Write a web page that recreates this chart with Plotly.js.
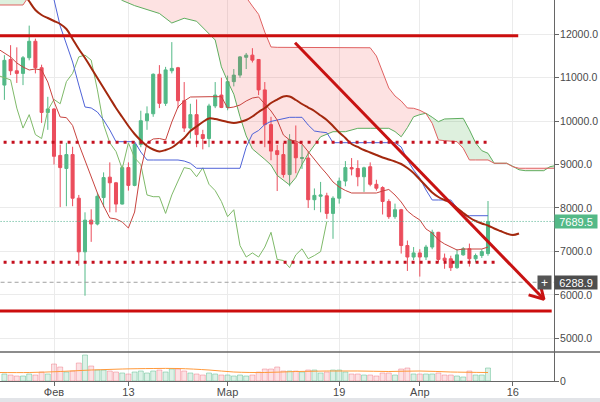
<!DOCTYPE html>
<html><head><meta charset="utf-8">
<script src="https://cdn.plot.ly/plotly-3.0.1.min.js"></script>
<style>html,body{margin:0;padding:0;background:#fff;}#chart{width:600px;height:402px;}</style>
</head><body><div id="chart"></div>
<script>
// ---------- DATA ----------
const candleStart = '2018-01-24';
const openP  = [10830,11420,11160,11100,11460,11840,11230,10200,
  10280,9210,8910,9230,8225,6990,7720,7630,8240,8710,8580,8090,8930,8520,9460,10010,10170,11080,10410,11160,11230,10470,9840,10150,9690,9600,10350,10600,
  10315,10910,11060,11470,11520,11420,10720,9920,9320,9230,8770,9500,9140,9150,8190,8270,8280,7875,8225,8620,8930,8910,8720,8950,8545,8470,8150,7800,7960,7135,6870,
  6965,6870,7100,7440,6845,6830,6625,6920,7060,6830,6905,6950];
const highP  = [11520,11750,11700,11500,12200,11900,11300,10560,
  10300,9460,9500,9410,8300,7900,7970,8350,8820,9050,8600,8980,9050,9500,10240,10340,11100,11290,11250,11820,11250,10900,10400,10500,9800,10400,10900,11000,
  11050,11200,11500,11570,11680,11430,10900,10100,9450,9500,9700,9900,9450,9300,8450,8600,8350,8270,8700,9080,9150,9100,8950,9050,8650,8500,8200,8100,7980,7250,7100,
  7050,7150,7500,7450,6950,6900,7050,7100,7180,6950,7050,8160];
const lowP   = [10490,11060,10880,10830,11400,11100,9960,9800,
  9000,8020,8040,8040,6670,5980,7220,7600,8020,7900,7900,8080,8400,8500,9400,9800,10100,10300,10350,11100,10300,9750,9600,9400,9350,9400,10300,10300,
  10250,10800,11000,11200,11350,10600,9400,9100,8390,8700,8500,8800,8900,8000,7950,7900,7750,7290,8100,8500,8750,8500,8370,8500,8400,7850,7750,7750,6950,6550,6800,
  6420,6800,7050,6750,6600,6550,6600,6900,6650,6750,6850,6900];
const closeP = [11400,11160,11100,11460,11840,11230,10200,10280,
  9190,8930,9230,8225,6990,7720,7630,8270,8700,8580,8090,8930,8520,9460,10010,10170,11080,10410,11180,11215,10470,9840,10150,9690,9600,10350,10600,10315,
  10910,11060,11480,11520,11405,10720,9920,9310,9230,8770,9575,9156,9160,8190,8290,8300,7875,8225,8620,8930,8900,8720,8925,8545,8455,8150,7800,7960,7135,6870,6965,
  6870,7100,7440,6815,6790,6625,6920,7060,6830,6905,6995,7689.5];
const volume = [7,6,5,5,7,6,9,7,
  17,14,9,10,18,26,15,11,11,10,9,8,7,9,10,8,10,11,9,12,12,10,8,7,6,8,7,6,
  6,5,6,5,6,9,12,12,14,10,10,10,9,11,11,8,9,11,11,9,7,7,6,6,5,8,8,6,12,13,7,
  7,7,7,8,6,6,5,4,10,6,6,13];
const volMADates = ['2018-01-23','2018-01-28','2018-02-02','2018-02-07','2018-02-12','2018-02-17','2018-02-21','2018-02-26','2018-03-02','2018-03-07','2018-03-12','2018-03-17','2018-03-22','2018-03-27','2018-04-01','2018-04-06','2018-04-12'];
const volMA = [8.5,8.5,9.5,11,12,12.5,12.5,11,9,8.5,9.5,10,10,9.5,10,9,8.5];

// Ichimoku conversion / base lines (daily from Jan 23)
const lineStart = '2018-01-23';
const tenkan = [11661,11569,11477,11339,11247,11178,11201,11178,10901,
  10450,10095,10080,9900,9470,9100,8691,8345,8046,7770,7746,7677,7539,7907,8875,9497,9589,9600,9566,9980,10326,10464,10556,10563,10563,10563,10563,10563,
  10303,10326,10372,10464,10533,10556,10395,10234,10026,9681,9566,9543,9474,9290,9128,8944,8783,8599,8483,8403,8345,8345,8345,8345,8345,8391,8426,8299,8138,7931,7816,
  7724,7516,7424,7263,7171,7101,7032,7055,7055,7055,7055,7101];
const kijun = [13500,13500,13500,13500,13500,13500,13500,13500,13300,
  12800,12190,11754,11362,10830,10326,10303,10210,10026,9796,9527,9527,9527,9527,9289,9105,9105,9105,9105,9105,9105,9082,9030,8914,8914,8914,8914,8914,
  8914,8914,8914,9400,9704,9785,9923,9994,10026,10061,10088,10088,10088,9911,9773,9750,9734,9504,9504,9504,9504,9504,9504,9504,9504,9504,9504,9504,9405,9105,8875,
  8690,8414,8184,8184,8184,8184,8000,7822,7822,7822,7822,7822];
// lagging span (daily from Jan 23)
const lagging = [11050,11000,10950,10300,9840,10150,9690,9600,10250,
  10500,10400,10910,11100,11480,11520,11405,10720,9920,9500,9300,8900,9500,9156,9000,8300,8260,8260,7875,8300,8620,8930,8900,8720,8925,8545,8400,8150,
  7800,7960,7135,6870,6965,6870,7100,7440,6815,6790,6625,6920,7060,6830,6905,6995,7689.5];
// moving average (daily from Jan 27)
const maStart = '2018-01-27';
const movingAvg = [12974,12760,12560,12444,12375,
  12306,12237,12122,11892,11661,11454,11224,10994,10763,10533,10303,10095,9888,9704,9554,9428,9347,9301,9335,9393,9497,9612,9773,9877,9980,10061,10049,10015,
  9980,9957,9980,10026,10107,10211,10303,10418,10498,10568,10568,10487,10395,10314,10234,10130,10026,9888,9738,9612,9474,9405,9335,9278,9220,9163,9117,9071,9013,8921,8806,
  8656,8506,8357,8253,8184,8115,8000,7885,7781,7700,7643,7597,7528,7470,7413,7378,7413];
// cloud (leading spans)
const cloudDates = ['2018-01-23','2018-01-27','2018-01-29','2018-02-11','2018-02-12','2018-02-14','2018-02-18','2018-02-20','2018-02-22','2018-02-24',
  '2018-02-27','2018-02-28','2018-03-01','2018-03-02','2018-03-03','2018-03-04','2018-03-05','2018-03-06','2018-03-07','2018-03-08','2018-03-09',
  '2018-03-11','2018-03-12','2018-03-13','2018-03-14','2018-03-16','2018-03-18','2018-03-20','2018-03-22','2018-03-24','2018-03-25','2018-03-26',
  '2018-03-27','2018-03-28','2018-03-29','2018-03-30','2018-03-31','2018-04-01','2018-04-02','2018-04-03','2018-04-04','2018-04-05','2018-04-07',
  '2018-04-08','2018-04-09','2018-04-10','2018-04-11','2018-04-12','2018-04-13','2018-04-15','2018-04-16','2018-04-17','2018-04-18','2018-04-21',
  '2018-04-22','2018-04-23'];
const spanA = [13000,13000,12950,12900,12780,12660,12480,12260,12370,12300,
  11869,11250,10920,10620,10102,9660,9360,9250,9120,8990,8750,
  8530,8700,9000,9250,9640,9757,9757,9835,9835,9835,9835,
  9835,9760,9640,9850,10100,10150,10181,10090,9987,10050,10065,
  10065,9800,9500,9320,9259,9030,9030,8960,8880,8859,8859,
  8951,8980];
const spanB = [12675,12675,13100,13200,13200,13200,13200,13200,13200,13200,
  13200,13200,13200,13200,13000,12850,12650,12460,12050,11708,11700,
  11700,11700,11700,11700,11700,11700,11700,11700,11690,11500,11109,
  10763,10579,10464,10303,10296,10250,10175,9950,9567,9550,9528,
  9375,9106,9106,9106,9106,9030,9030,8950,8915,8915,8915,
  8915,8915];
// drawn levels and trend arrow
const levelDates = ['2018-01-20'];
const resistanceTop = {price: 11968, end: '2018-04-16 21:00'};
const supportBottom = {price: 5628, end: '2018-04-22 06:30'};
const dottedUpper = {price: 9513, end: '2018-04-12 14:00'};
const dottedLower = {price: 6749, end: '2018-04-13 19:00'};
const trendX = ['2018-03-11 21:00','2018-04-21 00:45'];
const trendY = [11807, 5897];
const arrowHeadX = ['2018-04-18 13:10','2018-04-21 00:45','2018-04-20 09:35'];
const arrowHeadY = [5998, 5897, 6254];
const lastPrice = 7689.5;
const markPrice = 6288.9;
const xTickVals = ['2018-02-01','2018-02-13','2018-03-01','2018-03-19','2018-04-01','2018-04-16'];
const xTickText = ['Фев','13','Мар','19','Апр','16'];
const yTickVals = [5000,6000,7000,8000,9000,10000,11000,12000];

// ---------- BUILD ----------
function days(start, n){const t0=Date.parse(start+'T00:00:00Z');const o=[];for(let i=0;i<n;i++){o.push(new Date(t0+i*86400000).toISOString().slice(0,10));}return o;}
const cDates = days(candleStart, closeP.length);
const lDates = days(lineStart, tenkan.length);
const lagDates = days(lineStart, lagging.length);
const maDates = days(maStart, movingAvg.length);
const cloudTop = spanA.map((a,i)=>Math.max(a, spanB[i]));

const UP='#53b987', DN='#eb4d5c';
const traces = [];
traces.push({type:'bar', x:cDates, y:volume, xaxis:'x', yaxis:'y2', width:0.8*86400000,
  marker:{color:closeP.map((c,i)=>c>=openP[i]?'rgba(83,185,135,0.2)':'rgba(235,77,92,0.16)'),
          line:{color:closeP.map((c,i)=>c>=openP[i]?'rgba(83,185,135,0.45)':'rgba(235,77,92,0.35)'),width:1}}, hoverinfo:'skip'});
traces.push({type:'scatter', mode:'lines', x:volMADates, y:volMA, yaxis:'y2', line:{color:'#ff9a3c',width:1,shape:'spline'}, hoverinfo:'skip'});
traces.push({type:'candlestick', x:cDates, open:openP, high:highP, low:lowP, close:closeP, yaxis:'y',
  increasing:{line:{color:UP,width:1},fillcolor:UP}, decreasing:{line:{color:DN,width:1},fillcolor:DN}, whiskerwidth:0, hoverinfo:'skip'});
// cloud fills
traces.push({type:'scatter', mode:'lines', x:cloudDates, y:spanA, line:{width:0}, hoverinfo:'skip'});
traces.push({type:'scatter', mode:'lines', x:cloudDates, y:cloudTop, line:{width:0}, fill:'tonexty', fillcolor:'rgba(240,60,60,0.15)', hoverinfo:'skip'});
traces.push({type:'scatter', mode:'lines', x:cloudDates, y:spanB, line:{width:0}, hoverinfo:'skip'});
traces.push({type:'scatter', mode:'lines', x:cloudDates, y:cloudTop, line:{width:0}, fill:'tonexty', fillcolor:'rgba(0,140,0,0.13)', hoverinfo:'skip'});
traces.push({type:'scatter', mode:'lines', x:cloudDates, y:spanA, line:{color:'#5fae5f',width:1}, hoverinfo:'skip'});
traces.push({type:'scatter', mode:'lines', x:cloudDates, y:spanB, line:{color:'#e06262',width:1}, hoverinfo:'skip'});
traces.push({type:'scatter', mode:'lines', x:lagDates, y:lagging, line:{color:'#7fba6a',width:1}, hoverinfo:'skip'});
traces.push({type:'scatter', mode:'lines', x:lDates, y:kijun, line:{color:'#4f63d8',width:1}, hoverinfo:'skip'});
traces.push({type:'scatter', mode:'lines', x:lDates, y:tenkan, line:{color:'#c8443f',width:1}, hoverinfo:'skip'});
traces.push({type:'scatter', mode:'lines', x:maDates, y:movingAvg, line:{color:'#a3280e',width:2,shape:'spline'}, hoverinfo:'skip'});
// reference lines
traces.push({type:'scatter', mode:'lines', x:[levelDates[0],'2018-04-30'], y:[lastPrice,lastPrice], line:{color:'#4cb08c',width:1,dash:'1px,2px'}, hoverinfo:'skip'});
traces.push({type:'scatter', mode:'lines', x:[levelDates[0],'2018-04-30'], y:[markPrice,markPrice], line:{color:'#a0a0a0',width:1,dash:'4px,3px'}, hoverinfo:'skip'});
[dottedUpper, dottedLower].forEach(l=>traces.push({type:'scatter', mode:'lines', x:[levelDates[0],l.end], y:[l.price,l.price], line:{color:'#c4101e',width:3,dash:'3px,5px'}, hoverinfo:'skip'}));
[resistanceTop, supportBottom].forEach(l=>traces.push({type:'scatter', mode:'lines', x:[levelDates[0],l.end], y:[l.price,l.price], line:{color:'#cc0e0e',width:3}, hoverinfo:'skip'}));
traces.push({type:'scatter', mode:'lines', x:trendX, y:trendY, line:{color:'#c81212',width:3}, hoverinfo:'skip'});
traces.push({type:'scatter', mode:'lines', x:arrowHeadX, y:arrowHeadY, line:{color:'#c81212',width:3}, hoverinfo:'skip'});

const plotH = 381, sepY = 352;
const volTop = (plotH - sepY) / plotH;
const FONT = 'Liberation Sans, Arial, sans-serif';
const layout = {
  width:600, height:402, margin:{l:0,r:46,t:0,b:21}, paper_bgcolor:'#fff', plot_bgcolor:'#fff',
  showlegend:false, font:{family:FONT, size:11, color:'#4a4a4a'},
  xaxis:{type:'date', range:['2018-01-23 06:58','2018-04-22 15:29'], anchor:'y2', tickvals:xTickVals, ticktext:xTickText,
    showgrid:true, gridcolor:'#ebebeb', gridwidth:1, ticks:'outside', ticklen:4, tickcolor:'#666', showline:true, linecolor:'#666', linewidth:1,
    tickfont:{size:11,color:'#4a4a4a'}, ticklabelstandoff:-3, rangeslider:{visible:false}, zeroline:false, fixedrange:true},
  yaxis:{domain:[volTop,1], range:[4683,12790], side:'right', anchor:'x', tickvals:yTickVals, tickformat:'.1f',
    showgrid:true, gridcolor:'#ebebeb', ticks:'outside', ticklen:4, tickcolor:'#666', showline:true, linecolor:'#666', linewidth:1,
    zeroline:false, tickfont:{size:10.5,color:'#4a4a4a'}, ticklabelstandoff:-1},
  yaxis2:{domain:[0,volTop], range:[0,29], side:'right', anchor:'x', tickvals:[0], ticktext:['0'], showgrid:false, ticks:'outside', ticklen:4,
    tickcolor:'#666', showline:true, linecolor:'#666', linewidth:1, zeroline:false, tickfont:{size:10.5,color:'#4a4a4a'}, ticklabelstandoff:-1},
  shapes:[
    {type:'line', xref:'paper', yref:'paper', x0:0, x1:600/554, y0:volTop, y1:volTop, line:{color:'#666',width:1.5}},
    {type:'rect', xref:'paper', yref:'paper', x0:0, x1:600/554, y0:-(402-plotH)/plotH, y1:-(398-plotH)/plotH, fillcolor:'#e2e4e8', line:{width:0}}
  ],
  annotations:[
    {xref:'paper', yref:'y', x:1, y:lastPrice, xanchor:'left', yanchor:'middle', text:lastPrice.toFixed(1), showarrow:false,
      bgcolor:UP, font:{color:'#fff',size:11,family:FONT}, width:42, height:13, borderpad:0},
    {xref:'paper', yref:'y', x:1, y:markPrice, xanchor:'left', yanchor:'middle', text:markPrice.toFixed(1), showarrow:false,
      bgcolor:'#4d4d4d', font:{color:'#fff',size:11,family:FONT}, width:42, height:13, borderpad:0},
    {xref:'paper', yref:'y', x:1, y:markPrice, xanchor:'right', yanchor:'middle', xshift:-2, text:'+', showarrow:false,
      bgcolor:'#555', font:{color:'#fff',size:12,family:FONT}, width:13, height:13, borderpad:0}
  ]
};
Plotly.newPlot('chart', traces, layout, {staticPlot:true, displayModeBar:false});
</script></body></html>
